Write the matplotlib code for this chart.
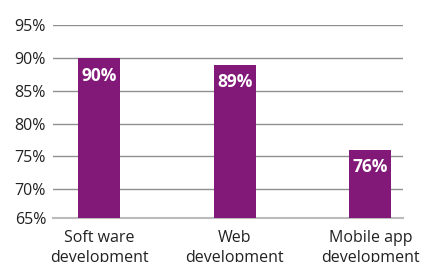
import matplotlib
matplotlib.use("Agg")
import matplotlib.pyplot as plt

# data
categories = ["Soft ware\ndevelopment", "Web\ndevelopment", "Mobile app\ndevelopment"]
values = [90, 89, 76]
tick_vals = [65.6, 70, 75, 80, 85, 90, 95]
tick_labels = ["65%", "70%", "75%", "80%", "85%", "90%", "95%"]

plt.rcParams['font.family'] = ['Open Sans', 'DejaVu Sans']
bar_color = "#821878"

fig = plt.figure(figsize=(4.21, 2.62), dpi=100, facecolor='white')
ax = fig.add_axes([0.126, 0.168, 0.831, 0.738])

x = list(range(len(values)))
ax.bar(x, values, width=0.31, color=bar_color, zorder=3, bottom=0)

# value labels inside the bars
for xi, v in zip(x, values):
    ax.text(xi, v - 1.3, "%d%%" % v, ha='center', va='top', color='white',
            fontsize=12.5, fontweight='bold', zorder=4)

ax.set_ylim(65.6, 95.1)
ax.set_xlim(-0.34, 2.24)
ax.set_yticks(tick_vals)
ax.set_yticklabels(tick_labels, fontsize=11.5, color='#222222')
ax.set_xticks(x)
ax.set_xticklabels(categories, fontsize=11.5, color='#222222', linespacing=1.3)
ax.tick_params(axis='x', length=0, pad=9)
ax.tick_params(axis='y', length=0, pad=5)

# grid lines
for t in tick_vals[1:]:
    ax.axhline(t, color='#8f8f8f', lw=1.0, zorder=1)

for s in ['top', 'right', 'left']:
    ax.spines[s].set_visible(False)
ax.spines['bottom'].set_color('#bbbbbb')
ax.spines['bottom'].set_linewidth(1.5)
ax.spines['bottom'].set_zorder(2)

fig.savefig("out.png", dpi=100, facecolor='white')
